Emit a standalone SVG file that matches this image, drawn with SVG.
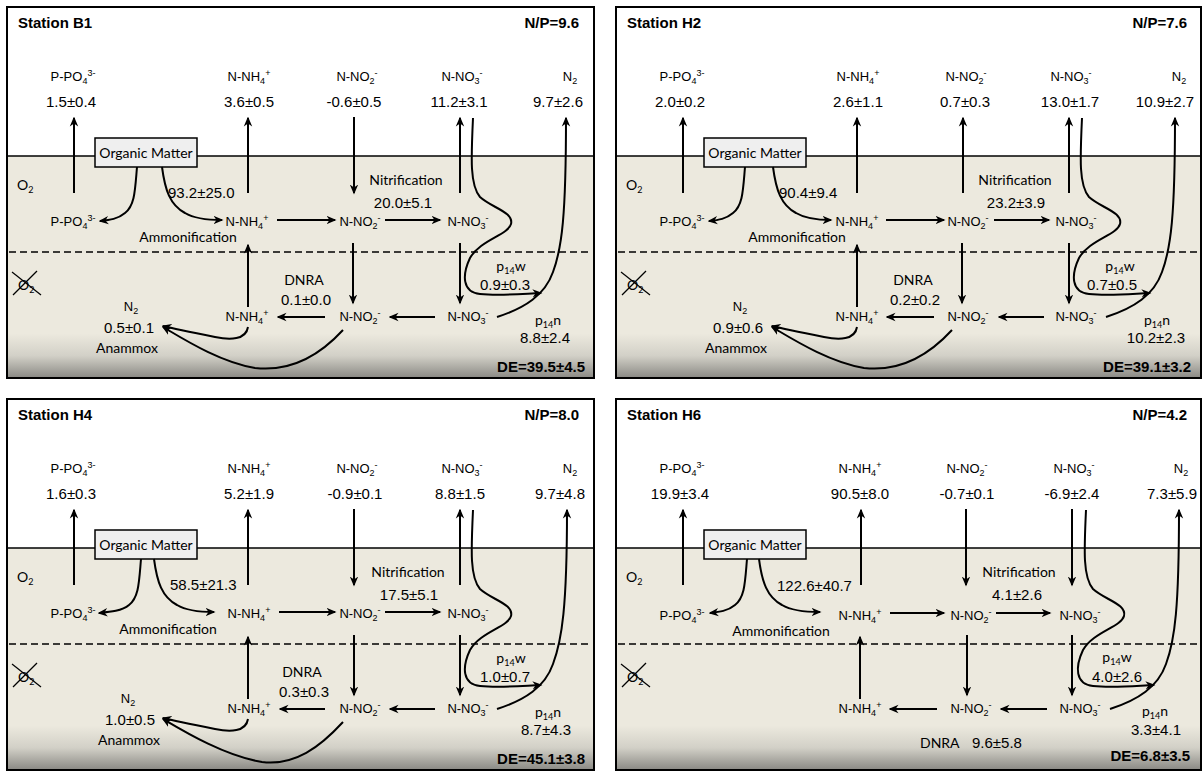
<svg xmlns="http://www.w3.org/2000/svg" width="1204" height="772" viewBox="0 0 1204 772" style="font-family:'Liberation Sans',Arial,sans-serif">
<defs>
<style>
.lb{font-size:13px;text-anchor:middle}
.v{font-size:15px;text-anchor:middle}
.c{font-family:Lato,'Liberation Sans',sans-serif;font-size:14px;text-anchor:middle}
.cs{font-family:Lato,'Liberation Sans',sans-serif;font-size:14px}
.b{font-weight:bold;font-size:15px}
.e{text-anchor:end}
.s{font-size:9px}
.ln path{stroke:#000;stroke-width:2;fill:none;marker-end:url(#ah)}
.surf{stroke:#000;stroke-width:1.6}
.dash{stroke:#000;stroke-width:1.5;stroke-dasharray:7,4}
.frame{fill:none;stroke:#000;stroke-width:2}
.xo{stroke:#000;stroke-width:1.2}
.om{fill:#efefef;stroke:#000;stroke-width:1.5}
</style>
<linearGradient id="sed" x1="0" y1="0" x2="0" y2="1">
<stop offset="0" stop-color="#ece9de"/>
<stop offset="0.8" stop-color="#ece9de"/>
<stop offset="0.9" stop-color="#d2d0c7"/>
<stop offset="1" stop-color="#8a8984"/>
</linearGradient>
<marker id="ah" viewBox="0 0 10 10" refX="8.5" refY="5" markerWidth="10" markerHeight="10" markerUnits="userSpaceOnUse" orient="auto">
<path d="M0,0.8 L10,5 L0,9.2 L3,5 z" fill="#000"/>
</marker>
</defs>
<rect width="1204" height="772" fill="#fff"/>

<!-- ============ B1 ============ -->
<g id="b1">
<g id="b1-bg">
<rect x="7" y="7" width="587" height="149" fill="#fff"/>
<rect x="7" y="156" width="587" height="222" fill="url(#sed)"/>
<line class="surf" x1="7" y1="156" x2="594" y2="156"/>
<line class="dash" x1="9" y1="252" x2="590" y2="252"/>
<rect class="frame" x="7" y="7" width="587" height="371"/>
</g>
<g id="b1-title"><text class="b" x="18" y="28">Station B1</text><text class="b e" x="579" y="28">N/P=9.6</text></g>
<g id="b1-de"><text class="b e" x="585" y="372">DE=39.5±4.5</text></g>
<g id="b1-oxic"><text class="cs" x="17" y="190">O<tspan class="s" dy="3">2</tspan></text></g>
<g id="b1-anoxic"><text class="cs" x="18" y="290">O<tspan class="s" dy="3">2</tspan></text><line class="xo" x1="12" y1="272" x2="41" y2="295"/><line class="xo" x1="13" y1="295" x2="37" y2="271"/></g>
<g id="b1-w-po4"><text class="lb" x="73" y="81">P-PO<tspan class="s" dy="3">4</tspan><tspan class="s" dy="-8">3-</tspan></text><text class="v" x="71" y="107">1.5±0.4</text></g>
<g id="b1-w-nh4"><text class="lb" x="249" y="81">N-NH<tspan class="s" dy="3">4</tspan><tspan class="s" dy="-8">+</tspan></text><text class="v" x="249" y="107">3.6±0.5</text></g>
<g id="b1-w-no2"><text class="lb" x="357" y="81">N-NO<tspan class="s" dy="3">2</tspan><tspan class="s" dy="-8">-</tspan></text><text class="v" x="354" y="107">-0.6±0.5</text></g>
<g id="b1-w-no3"><text class="lb" x="462" y="81">N-NO<tspan class="s" dy="3">3</tspan><tspan class="s" dy="-8">-</tspan></text><text class="v" x="459" y="107">11.2±3.1</text></g>
<g id="b1-w-n2"><text class="lb" x="570" y="81">N<tspan class="s" dy="3">2</tspan></text><text class="v" x="558" y="107">9.7±2.6</text></g>
<g id="b1-om"><rect class="om" x="95" y="138" width="102" height="29"/><text class="c" x="146" y="158">Organic Matter</text></g>
<g id="b1-s-po4"><text class="lb" x="73" y="226">P-PO<tspan class="s" dy="3">4</tspan><tspan class="s" dy="-8">3-</tspan></text></g>
<g id="b1-s-nh4"><text class="lb" x="247" y="226">N-NH<tspan class="s" dy="3">4</tspan><tspan class="s" dy="-8">+</tspan></text></g>
<g id="b1-s-no2"><text class="lb" x="360" y="226">N-NO<tspan class="s" dy="3">2</tspan><tspan class="s" dy="-8">-</tspan></text></g>
<g id="b1-s-no3"><text class="lb" x="468" y="226">N-NO<tspan class="s" dy="3">3</tspan><tspan class="s" dy="-8">-</tspan></text></g>
<g id="b1-a-nh4"><text class="lb" x="247" y="321">N-NH<tspan class="s" dy="3">4</tspan><tspan class="s" dy="-8">+</tspan></text></g>
<g id="b1-a-no2"><text class="lb" x="360" y="321">N-NO<tspan class="s" dy="3">2</tspan><tspan class="s" dy="-8">-</tspan></text></g>
<g id="b1-a-no3"><text class="lb" x="468" y="321">N-NO<tspan class="s" dy="3">3</tspan><tspan class="s" dy="-8">-</tspan></text></g>
<g id="b1-ammon"><text class="v" x="168" y="198" style="text-anchor:start">93.2±25.0</text><text class="c" x="188" y="242">Ammonification</text></g>
<g id="b1-nitri"><text class="c" x="406" y="185">Nitrification</text><text class="v" x="403" y="208">20.0±5.1</text></g>
<g id="b1-dnra"><text class="c" x="304" y="285">DNRA</text><text class="v" x="306" y="305">0.1±0.0</text></g>
<g id="b1-anammox"><text class="lb" x="131" y="311">N<tspan class="s" dy="3">2</tspan></text><text class="v" x="129" y="333">0.5±0.1</text><text class="c" x="127" y="353">Anammox</text></g>
<g id="b1-p14w"><text class="c" x="511" y="271">p<tspan class="s" dy="3">14</tspan><tspan dy="-3">w</tspan></text><text class="v" x="505" y="290">0.9±0.3</text></g>
<g id="b1-p14n"><text class="c" x="548" y="325">p<tspan class="s" dy="3">14</tspan><tspan dy="-3">n</tspan></text><text class="v" x="545" y="343">8.8±2.4</text></g>
<g id="b1-connectors" class="ln">
<path d="M74,193 V118"/>
<path d="M248,193 V118"/>
<path d="M354,117 V193"/>
<path d="M460,193 V118"/>
<path d="M473,118 C471,160 470,185 480,197 C492,208 514,212 511,224 C508,235 480,240 470,258 C462,275 462,292 480,294 C500,296 520,294 541,293"/>
<path d="M497,317 C525,308 545,295 553,272 C562,248 566,215 566,118"/>
<path d="M137,167 C135,190 135,205 125,213 C118,219 110,220 100,221"/>
<path d="M162,167 C165,190 170,205 185,213 C195,219 210,220 222,220"/>
<path d="M277,220 H335"/>
<path d="M385,220 H440"/>
<path d="M353,243 V303"/>
<path d="M460,243 V303"/>
<path d="M248,307 V245"/>
<path d="M435,317 H390"/>
<path d="M325,317 H278"/>
<path d="M248,327 C246,340 230,340 215,337 C195,333 175,329 163,326"/>
<path d="M343,330 C320,355 290,372 255,368 C220,362 185,340 163,327"/>
</g>
</g>

<!-- ============ H2 ============ -->
<g id="h2" transform="translate(609,0)">
<g id="h2-bg">
<rect x="7" y="7" width="585" height="149" fill="#fff"/>
<rect x="7" y="156" width="585" height="222" fill="url(#sed)"/>
<line class="surf" x1="7" y1="156" x2="592" y2="156"/>
<line class="dash" x1="9" y1="252" x2="588" y2="252"/>
<rect class="frame" x="7" y="7" width="585" height="371"/>
</g>
<g id="h2-title"><text class="b" x="18" y="28">Station H2</text><text class="b e" x="578" y="28">N/P=7.6</text></g>
<g id="h2-de"><text class="b e" x="582" y="372">DE=39.1±3.2</text></g>
<g id="h2-oxic"><text class="cs" x="17" y="190">O<tspan class="s" dy="3">2</tspan></text></g>
<g id="h2-anoxic"><text class="cs" x="18" y="290">O<tspan class="s" dy="3">2</tspan></text><line class="xo" x1="12" y1="272" x2="41" y2="295"/><line class="xo" x1="13" y1="295" x2="37" y2="271"/></g>
<g id="h2-w-po4"><text class="lb" x="73" y="81">P-PO<tspan class="s" dy="3">4</tspan><tspan class="s" dy="-8">3-</tspan></text><text class="v" x="71" y="107">2.0±0.2</text></g>
<g id="h2-w-nh4"><text class="lb" x="249" y="81">N-NH<tspan class="s" dy="3">4</tspan><tspan class="s" dy="-8">+</tspan></text><text class="v" x="249" y="107">2.6±1.1</text></g>
<g id="h2-w-no2"><text class="lb" x="357" y="81">N-NO<tspan class="s" dy="3">2</tspan><tspan class="s" dy="-8">-</tspan></text><text class="v" x="356" y="107">0.7±0.3</text></g>
<g id="h2-w-no3"><text class="lb" x="462" y="81">N-NO<tspan class="s" dy="3">3</tspan><tspan class="s" dy="-8">-</tspan></text><text class="v" x="461" y="107">13.0±1.7</text></g>
<g id="h2-w-n2"><text class="lb" x="570" y="81">N<tspan class="s" dy="3">2</tspan></text><text class="v" x="556" y="107">10.9±2.7</text></g>
<g id="h2-om"><rect class="om" x="95" y="138" width="102" height="29"/><text class="c" x="146" y="158">Organic Matter</text></g>
<g id="h2-s-po4"><text class="lb" x="73" y="226">P-PO<tspan class="s" dy="3">4</tspan><tspan class="s" dy="-8">3-</tspan></text></g>
<g id="h2-s-nh4"><text class="lb" x="248" y="226">N-NH<tspan class="s" dy="3">4</tspan><tspan class="s" dy="-8">+</tspan></text></g>
<g id="h2-s-no2"><text class="lb" x="359" y="226">N-NO<tspan class="s" dy="3">2</tspan><tspan class="s" dy="-8">-</tspan></text></g>
<g id="h2-s-no3"><text class="lb" x="467" y="226">N-NO<tspan class="s" dy="3">3</tspan><tspan class="s" dy="-8">-</tspan></text></g>
<g id="h2-a-nh4"><text class="lb" x="248" y="321">N-NH<tspan class="s" dy="3">4</tspan><tspan class="s" dy="-8">+</tspan></text></g>
<g id="h2-a-no2"><text class="lb" x="359" y="321">N-NO<tspan class="s" dy="3">2</tspan><tspan class="s" dy="-8">-</tspan></text></g>
<g id="h2-a-no3"><text class="lb" x="467" y="321">N-NO<tspan class="s" dy="3">3</tspan><tspan class="s" dy="-8">-</tspan></text></g>
<g id="h2-ammon"><text class="v" x="170" y="198" style="text-anchor:start">90.4±9.4</text><text class="c" x="188" y="242">Ammonification</text></g>
<g id="h2-nitri"><text class="c" x="406" y="185">Nitrification</text><text class="v" x="407" y="208">23.2±3.9</text></g>
<g id="h2-dnra"><text class="c" x="304" y="285">DNRA</text><text class="v" x="306" y="305">0.2±0.2</text></g>
<g id="h2-anammox"><text class="lb" x="131" y="311">N<tspan class="s" dy="3">2</tspan></text><text class="v" x="129" y="333">0.9±0.6</text><text class="c" x="127" y="353">Anammox</text></g>
<g id="h2-p14w"><text class="c" x="511" y="271">p<tspan class="s" dy="3">14</tspan><tspan dy="-3">w</tspan></text><text class="v" x="503" y="290">0.7±0.5</text></g>
<g id="h2-p14n"><text class="c" x="548" y="325">p<tspan class="s" dy="3">14</tspan><tspan dy="-3">n</tspan></text><text class="v" x="547" y="343">10.2±2.3</text></g>
<g id="h2-connectors" class="ln">
<path d="M74,193 V118"/>
<path d="M248,193 V118"/>
<path d="M354,193 V118"/>
<path d="M460,193 V118"/>
<path d="M473,118 C471,160 470,185 480,197 C492,208 514,212 511,224 C508,235 480,240 470,258 C462,275 462,292 480,294 C500,296 520,294 541,293"/>
<path d="M497,317 C525,308 545,295 553,272 C562,248 566,215 566,118"/>
<path d="M136,167 C134,190 134,205 124,213 C117,219 110,220 100,221"/>
<path d="M164,167 C167,190 172,205 187,213 C197,219 210,220 222,220"/>
<path d="M277,220 H335"/>
<path d="M385,220 H440"/>
<path d="M353,243 V303"/>
<path d="M460,243 V303"/>
<path d="M248,307 V245"/>
<path d="M435,317 H390"/>
<path d="M325,317 H278"/>
<path d="M248,327 C246,340 230,340 215,337 C195,333 175,329 163,326"/>
<path d="M343,330 C320,355 290,372 255,368 C220,362 185,340 163,327"/>
</g>
</g>

<!-- ============ H4 ============ -->
<g id="h4" transform="translate(0,392)">
<g id="h4-bg">
<rect x="7" y="7" width="587" height="149" fill="#fff"/>
<rect x="7" y="156" width="587" height="222" fill="url(#sed)"/>
<line class="surf" x1="7" y1="156" x2="594" y2="156"/>
<line class="dash" x1="9" y1="252" x2="590" y2="252"/>
<rect class="frame" x="7" y="7" width="587" height="371"/>
</g>
<g id="h4-title"><text class="b" x="18" y="28">Station H4</text><text class="b e" x="579" y="28">N/P=8.0</text></g>
<g id="h4-de"><text class="b e" x="585" y="372">DE=45.1±3.8</text></g>
<g id="h4-oxic"><text class="cs" x="17" y="190">O<tspan class="s" dy="3">2</tspan></text></g>
<g id="h4-anoxic"><text class="cs" x="18" y="290">O<tspan class="s" dy="3">2</tspan></text><line class="xo" x1="12" y1="272" x2="41" y2="295"/><line class="xo" x1="13" y1="295" x2="37" y2="271"/></g>
<g id="h4-w-po4"><text class="lb" x="73" y="81">P-PO<tspan class="s" dy="3">4</tspan><tspan class="s" dy="-8">3-</tspan></text><text class="v" x="71" y="107">1.6±0.3</text></g>
<g id="h4-w-nh4"><text class="lb" x="249" y="81">N-NH<tspan class="s" dy="3">4</tspan><tspan class="s" dy="-8">+</tspan></text><text class="v" x="249" y="107">5.2±1.9</text></g>
<g id="h4-w-no2"><text class="lb" x="357" y="81">N-NO<tspan class="s" dy="3">2</tspan><tspan class="s" dy="-8">-</tspan></text><text class="v" x="355" y="107">-0.9±0.1</text></g>
<g id="h4-w-no3"><text class="lb" x="462" y="81">N-NO<tspan class="s" dy="3">3</tspan><tspan class="s" dy="-8">-</tspan></text><text class="v" x="460" y="107">8.8±1.5</text></g>
<g id="h4-w-n2"><text class="lb" x="570" y="81">N<tspan class="s" dy="3">2</tspan></text><text class="v" x="560" y="107">9.7±4.8</text></g>
<g id="h4-om"><rect class="om" x="95" y="138" width="102" height="29"/><text class="c" x="146" y="158">Organic Matter</text></g>
<g id="h4-s-po4"><text class="lb" x="73" y="226">P-PO<tspan class="s" dy="3">4</tspan><tspan class="s" dy="-8">3-</tspan></text></g>
<g id="h4-s-nh4"><text class="lb" x="249" y="226">N-NH<tspan class="s" dy="3">4</tspan><tspan class="s" dy="-8">+</tspan></text></g>
<g id="h4-s-no2"><text class="lb" x="360" y="226">N-NO<tspan class="s" dy="3">2</tspan><tspan class="s" dy="-8">-</tspan></text></g>
<g id="h4-s-no3"><text class="lb" x="468" y="226">N-NO<tspan class="s" dy="3">3</tspan><tspan class="s" dy="-8">-</tspan></text></g>
<g id="h4-a-nh4"><text class="lb" x="249" y="321">N-NH<tspan class="s" dy="3">4</tspan><tspan class="s" dy="-8">+</tspan></text></g>
<g id="h4-a-no2"><text class="lb" x="360" y="321">N-NO<tspan class="s" dy="3">2</tspan><tspan class="s" dy="-8">-</tspan></text></g>
<g id="h4-a-no3"><text class="lb" x="468" y="321">N-NO<tspan class="s" dy="3">3</tspan><tspan class="s" dy="-8">-</tspan></text></g>
<g id="h4-ammon"><text class="v" x="170" y="198" style="text-anchor:start">58.5±21.3</text><text class="c" x="168" y="242">Ammonification</text></g>
<g id="h4-nitri"><text class="c" x="408" y="185">Nitrification</text><text class="v" x="409" y="208">17.5±5.1</text></g>
<g id="h4-dnra"><text class="c" x="302" y="285">DNRA</text><text class="v" x="304" y="305">0.3±0.3</text></g>
<g id="h4-anammox"><text class="lb" x="128" y="311">N<tspan class="s" dy="3">2</tspan></text><text class="v" x="130" y="333">1.0±0.5</text><text class="c" x="129" y="353">Anammox</text></g>
<g id="h4-p14w"><text class="c" x="511" y="271">p<tspan class="s" dy="3">14</tspan><tspan dy="-3">w</tspan></text><text class="v" x="505" y="290">1.0±0.7</text></g>
<g id="h4-p14n"><text class="c" x="548" y="325">p<tspan class="s" dy="3">14</tspan><tspan dy="-3">n</tspan></text><text class="v" x="546" y="343">8.7±4.3</text></g>
<g id="h4-connectors" class="ln">
<path d="M74,193 V118"/>
<path d="M248,193 V118"/>
<path d="M354,117 V193"/>
<path d="M460,193 V118"/>
<path d="M473,118 C471,160 470,185 480,197 C492,208 514,212 511,224 C508,235 480,240 470,258 C462,275 462,292 480,294 C500,296 520,294 541,293"/>
<path d="M497,317 C525,308 545,295 553,272 C562,248 567,215 567,118"/>
<path d="M141,167 C139,190 139,205 129,213 C122,219 110,220 99,221"/>
<path d="M154,167 C157,190 162,205 177,213 C187,219 200,220 214,220"/>
<path d="M279,220 H335"/>
<path d="M385,220 H440"/>
<path d="M354,243 V303"/>
<path d="M460,243 V303"/>
<path d="M248,307 V245"/>
<path d="M435,317 H390"/>
<path d="M325,317 H280"/>
<path d="M248,327 C246,340 230,340 215,337 C195,333 175,329 163,326"/>
<path d="M343,330 C320,355 295,374 262,370 C225,364 185,340 163,327"/>
</g>
</g>

<!-- ============ H6 ============ -->
<g id="h6" transform="translate(609,392)">
<g id="h6-bg">
<rect x="7" y="7" width="585" height="149" fill="#fff"/>
<rect x="7" y="156" width="585" height="222" fill="url(#sed)"/>
<line class="surf" x1="7" y1="156" x2="592" y2="156"/>
<line class="dash" x1="9" y1="252" x2="588" y2="252"/>
<rect class="frame" x="7" y="7" width="585" height="371"/>
</g>
<g id="h6-title"><text class="b" x="18" y="28">Station H6</text><text class="b e" x="578" y="28">N/P=4.2</text></g>
<g id="h6-de"><text class="b e" x="581" y="369">DE=6.8±3.5</text></g>
<g id="h6-oxic"><text class="cs" x="17" y="190">O<tspan class="s" dy="3">2</tspan></text></g>
<g id="h6-anoxic"><text class="cs" x="18" y="290">O<tspan class="s" dy="3">2</tspan></text><line class="xo" x1="12" y1="272" x2="41" y2="295"/><line class="xo" x1="13" y1="295" x2="37" y2="271"/></g>
<g id="h6-w-po4"><text class="lb" x="73" y="81">P-PO<tspan class="s" dy="3">4</tspan><tspan class="s" dy="-8">3-</tspan></text><text class="v" x="71" y="107">19.9±3.4</text></g>
<g id="h6-w-nh4"><text class="lb" x="251" y="81">N-NH<tspan class="s" dy="3">4</tspan><tspan class="s" dy="-8">+</tspan></text><text class="v" x="251" y="107">90.5±8.0</text></g>
<g id="h6-w-no2"><text class="lb" x="358" y="81">N-NO<tspan class="s" dy="3">2</tspan><tspan class="s" dy="-8">-</tspan></text><text class="v" x="358" y="107">-0.7±0.1</text></g>
<g id="h6-w-no3"><text class="lb" x="465" y="81">N-NO<tspan class="s" dy="3">3</tspan><tspan class="s" dy="-8">-</tspan></text><text class="v" x="463" y="107">-6.9±2.4</text></g>
<g id="h6-w-n2"><text class="lb" x="572" y="81">N<tspan class="s" dy="3">2</tspan></text><text class="v" x="563" y="107">7.3±5.9</text></g>
<g id="h6-om"><rect class="om" x="95" y="138" width="102" height="29"/><text class="c" x="146" y="158">Organic Matter</text></g>
<g id="h6-s-po4"><text class="lb" x="73" y="228">P-PO<tspan class="s" dy="3">4</tspan><tspan class="s" dy="-8">3-</tspan></text></g>
<g id="h6-s-nh4"><text class="lb" x="251" y="228">N-NH<tspan class="s" dy="3">4</tspan><tspan class="s" dy="-8">+</tspan></text></g>
<g id="h6-s-no2"><text class="lb" x="362" y="228">N-NO<tspan class="s" dy="3">2</tspan><tspan class="s" dy="-8">-</tspan></text></g>
<g id="h6-s-no3"><text class="lb" x="471" y="228">N-NO<tspan class="s" dy="3">3</tspan><tspan class="s" dy="-8">-</tspan></text></g>
<g id="h6-a-nh4"><text class="lb" x="251" y="321">N-NH<tspan class="s" dy="3">4</tspan><tspan class="s" dy="-8">+</tspan></text></g>
<g id="h6-a-no2"><text class="lb" x="362" y="321">N-NO<tspan class="s" dy="3">2</tspan><tspan class="s" dy="-8">-</tspan></text></g>
<g id="h6-a-no3"><text class="lb" x="471" y="321">N-NO<tspan class="s" dy="3">3</tspan><tspan class="s" dy="-8">-</tspan></text></g>
<g id="h6-ammon"><text class="v" x="168" y="199" style="text-anchor:start">122.6±40.7</text><text class="c" x="172" y="244">Ammonification</text></g>
<g id="h6-nitri"><text class="c" x="410" y="185">Nitrification</text><text class="v" x="408" y="208">4.1±2.6</text></g>
<g id="h6-dnra"><text class="cs" x="311" y="356">DNRA</text><text class="v" x="363" y="356" style="text-anchor:start">9.6±5.8</text></g>
<g id="h6-p14w"><text class="c" x="508" y="270">p<tspan class="s" dy="3">14</tspan><tspan dy="-3">w</tspan></text><text class="v" x="508" y="290">4.0±2.6</text></g>
<g id="h6-p14n"><text class="c" x="546" y="324">p<tspan class="s" dy="3">14</tspan><tspan dy="-3">n</tspan></text><text class="v" x="547" y="343">3.3±4.1</text></g>
<g id="h6-connectors" class="ln">
<path d="M74,193 V118"/>
<path d="M252,193 V118"/>
<path d="M357,117 V193"/>
<path d="M463,117 V193"/>
<path d="M477,118 C475,160 474,185 484,197 C496,208 518,212 515,224 C512,235 484,240 474,258 C466,275 466,292 484,294 C504,296 524,294 545,293"/>
<path d="M501,317 C529,308 549,295 557,272 C566,248 570,215 570,118"/>
<path d="M138,167 C136,190 136,205 126,213 C119,219 110,220 101,221"/>
<path d="M150,167 C153,190 158,205 173,213 C183,219 198,220 211,220"/>
<path d="M281,221 H335"/>
<path d="M387,221 H441"/>
<path d="M358,243 V303"/>
<path d="M463,243 V303"/>
<path d="M251,307 V245"/>
<path d="M438,317 H392"/>
<path d="M328,317 H281"/>
</g>
</g>
</svg>
